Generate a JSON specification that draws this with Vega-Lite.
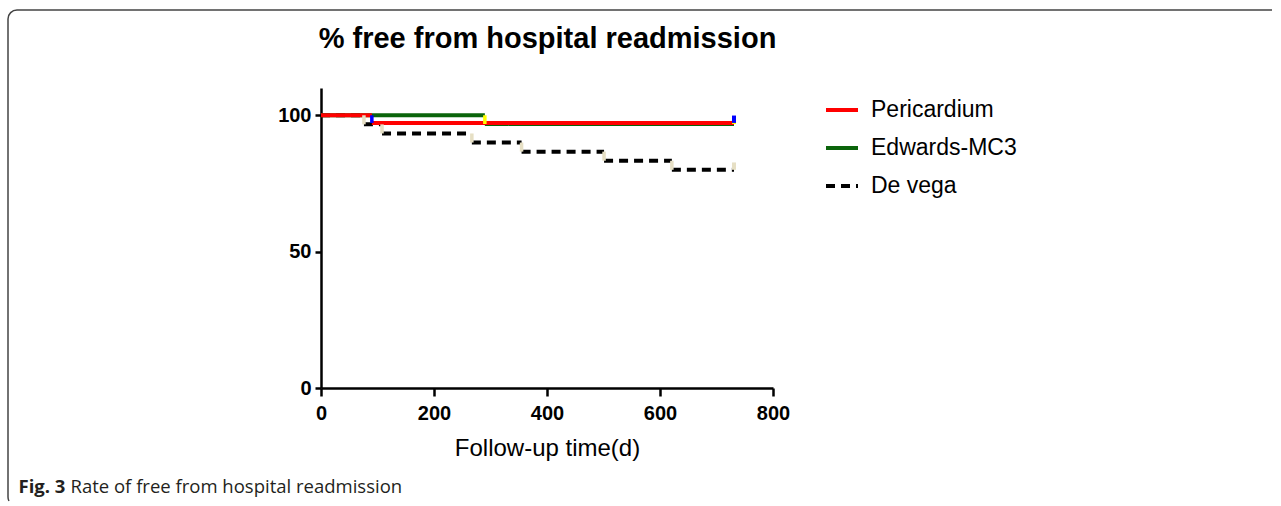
{
  "$schema": "https://vega.github.io/schema/vega-lite/v6.json",
  "width": 1273,
  "height": 496,
  "autosize": {"type": "none"},
  "padding": {"left": 8, "top": 10, "right": 0, "bottom": 0},
  "background": "white",
  "datasets": {
    "segments": [
      {"group": "De vega", "start": 0, "end": 76, "surv": 100},
      {"group": "De vega", "start": 76, "end": 108, "surv": 96.67},
      {"group": "De vega", "start": 108, "end": 267, "surv": 93.33},
      {"group": "De vega", "start": 267, "end": 355, "surv": 90},
      {"group": "De vega", "start": 355, "end": 501, "surv": 86.67},
      {"group": "De vega", "start": 501, "end": 621, "surv": 83.33},
      {"group": "De vega", "start": 621, "end": 731, "surv": 80},
      {"group": "Edwards-MC3", "start": 0, "end": 290, "surv": 100},
      {"group": "Edwards-MC3", "start": 290, "end": 731, "surv": 96.8},
      {"group": "Pericardium", "start": 0, "end": 90, "surv": 100},
      {"group": "Pericardium", "start": 90, "end": 731, "surv": 97.2}
    ],
    "drops": [
      {"group": "De vega", "t": 76, "hi": 100, "lo": 96.67},
      {"group": "De vega", "t": 108, "hi": 96.67, "lo": 93.33},
      {"group": "De vega", "t": 267, "hi": 93.33, "lo": 90},
      {"group": "De vega", "t": 355, "hi": 90, "lo": 86.67},
      {"group": "De vega", "t": 501, "hi": 86.67, "lo": 83.33},
      {"group": "De vega", "t": 621, "hi": 83.33, "lo": 80},
      {"group": "Edwards-MC3", "t": 290, "hi": 100, "lo": 96.8},
      {"group": "Pericardium", "t": 90, "hi": 100, "lo": 97.2}
    ],
    "censors": [
      {"group": "De vega", "t": 731, "hi": 82.7, "lo": 80},
      {"group": "Edwards-MC3", "t": 731, "hi": 99.4, "lo": 96.8},
      {"group": "Pericardium", "t": 731, "hi": 99.9, "lo": 97.2}
    ]
  },
  "resolve": {"axis": {"x": "independent"}},
  "layer": [
    {
      "data": {"name": "segments"},
      "mark": {"type": "rule", "strokeCap": "butt"},
      "encoding": {
        "x": {
          "field": "start", "type": "quantitative",
          "scale": {"domain": [0, 800], "range": [313, 765]},
          "axis": {
            "values": [0, 200, 400, 600, 800], "offset": -118, "tickSize": 8, "labelPadding": 7,
            "labelFlush": false, "labelFont": "Liberation Sans", "labelFontSize": 20, "labelFontWeight": "bold", "labelColor": "black",
            "domainColor": "black", "domainWidth": 2.5, "tickColor": "black", "tickWidth": 2.5,
            "title": "Follow-up time(d)", "titleFont": "Liberation Sans", "titleFontSize": 24, "titleFontWeight": "normal",
            "titleColor": "black", "titleY": 67, "titleBaseline": "alphabetic"
          }
        },
        "x2": {"field": "end"},
        "y": {
          "field": "surv", "type": "quantitative", "title": "% free from hospital readmission",
          "scale": {"domain": [0, 110], "range": [378, 78]},
          "axis": {
            "values": [0, 50, 100], "offset": -313, "tickSize": 6, "labelPadding": 4,
            "labelFont": "Liberation Sans", "labelFontSize": 20, "labelFontWeight": "bold", "labelColor": "black",
            "domainColor": "black", "domainWidth": 2.5, "tickColor": "black", "tickWidth": 2.5,
            "titleAngle": 0, "titleAlign": "center", "titleBaseline": "alphabetic", "titleX": 226, "titleY": 37,
            "titleFont": "Liberation Sans", "titleFontSize": 29, "titleFontWeight": "bold", "titleColor": "black"
          }
        },
        "color": {
          "field": "group", "type": "nominal",
          "scale": {"domain": ["Pericardium", "Edwards-MC3", "De vega"], "range": ["#ff0000", "#0b640b", "#000000"]},
          "legend": {"title": null}
        },
        "strokeDash": {
          "field": "group", "type": "nominal",
          "scale": {"domain": ["Pericardium", "Edwards-MC3", "De vega"], "range": [[1, 0], [1, 0], [9, 6]]},
          "legend": {"title": null}
        },
        "strokeWidth": {
          "field": "group", "type": "nominal",
          "scale": {"domain": ["Pericardium", "Edwards-MC3", "De vega"], "range": [4, 4, 2.5]},
          "legend": {"title": null}
        }
      }
    },
    {
      "data": {"name": "drops"},
      "mark": {"type": "rule", "strokeWidth": 3.5, "strokeCap": "butt"},
      "encoding": {
        "x": {
          "field": "t", "type": "quantitative",
          "axis": {
            "orient": "bottom", "offset": 0, "domain": false, "ticks": false, "labels": false,
            "title": "Fig. 3", "titleFont": "Open Sans", "titleFontSize": 18.5, "titleFontWeight": "bold",
            "titleColor": "#231f20", "titleAlign": "left", "titleBaseline": "alphabetic", "titleX": 10, "titleY": -14
          }
        },
        "y": {"field": "hi", "type": "quantitative", "title": "% free from hospital readmission"},
        "y2": {"field": "lo"},
        "stroke": {
          "field": "group", "type": "nominal",
          "scale": {"domain": ["Pericardium", "Edwards-MC3", "De vega"], "range": ["#0000ff", "#ffff00", "#e6dfc4"]},
          "legend": null
        }
      }
    },
    {
      "data": {"name": "censors"},
      "mark": {"type": "rule", "strokeWidth": 4, "strokeCap": "butt"},
      "encoding": {
        "x": {
          "field": "t", "type": "quantitative",
          "axis": {
            "orient": "bottom", "offset": 0, "domain": false, "ticks": false, "labels": false,
            "title": "Rate of free from hospital readmission", "titleFont": "Open Sans", "titleFontSize": 18.5, "titleFontWeight": "normal",
            "titleColor": "#231f20", "titleAlign": "left", "titleBaseline": "alphabetic", "titleX": 62, "titleY": -14
          }
        },
        "y": {"field": "hi", "type": "quantitative", "title": "% free from hospital readmission"},
        "y2": {"field": "lo"},
        "stroke": {"field": "group", "type": "nominal", "legend": null}
      }
    }
  ],
  "config": {
    "view": {"stroke": "#444444", "strokeWidth": 1.5, "cornerRadius": 9, "strokeDash": [1255, 1771, 600]},
    "axis": {"grid": false},
    "legend": {
      "orient": "none", "legendX": 816, "legendY": 82, "symbolType": "stroke", "symbolSize": 1024,
      "labelFont": "Liberation Sans", "labelFontSize": 23, "labelColor": "black", "labelOffset": 11,
      "rowPadding": 8, "padding": 0
    }
  }
}
